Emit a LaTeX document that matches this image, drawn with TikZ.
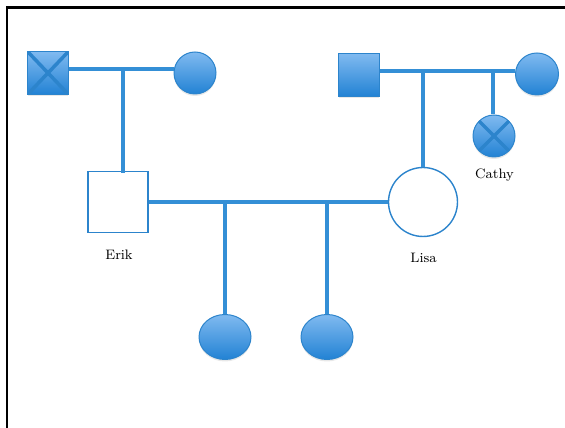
\documentclass[tikz,border=0pt]{standalone}
\usepackage{tikz}
\usetikzlibrary{shapes.geometric,shadows}

\definecolor{pedline}{RGB}{52,143,214}
\definecolor{pedtop}{RGB}{128,186,240}
\definecolor{pedbot}{RGB}{34,130,212}
\definecolor{pededge}{RGB}{44,132,204}

\tikzset{
  filled/.style={draw=pededge,line width=0.02cm,top color=pedtop,bottom color=pedbot,
    inner sep=0pt,drop shadow={opacity=0.18,shadow xshift=0cm,shadow yshift=-0.04cm}},
  male/.style={filled,rectangle,minimum width=0.82cm,minimum height=0.86cm},
  female/.style={filled,ellipse,minimum width=0.84cm,minimum height=0.84cm},
  girl/.style={filled,ellipse,minimum width=1.04cm,minimum height=0.9cm},
  affected/.style={path picture={
    \draw[pededge,line width=0.07cm] (path picture bounding box.north west) -- (path picture bounding box.south east);
    \draw[pededge,line width=0.07cm] (path picture bounding box.south west) -- (path picture bounding box.north east);}},
  unfilled/.style={draw=pededge,line width=0.028cm,fill=white,inner sep=0pt},
  tie/.style={pedline,line width=0.075cm},
  tag/.style={font=\fontsize{7.8}{9}\selectfont}
}

\begin{document}
\begin{tikzpicture}[x=0.02cm,y=-0.02cm]
    \useasboundingbox (0,0) rectangle (565,428);
    % frame
    \draw[line width=0.06cm] (6,8) -- (565,8);
    \draw[line width=0.06cm] (7,8) -- (7,428);

    % grandparents
    \node[male,affected] (gfa) at (48,73) {};
    \node[female] (gma) at (195,73) {};
    \node[male] (gfb) at (359,75) {};
    \node[female,minimum width=0.86cm] (gmb) at (537,74) {};

    % parents and aunt
    \node[unfilled,rectangle,minimum width=1.2cm,minimum height=1.22cm] (erik) at (118,202) {};
    \node[unfilled,circle,minimum size=1.38cm] (lisa) at (423,202) {};
    \node[female,affected] (cathy) at (494,136) {};
    \node[tag] (eriklab) at (119,255) {Erik};
    \node[tag] (lisalab) at (423.5,257.5) {Lisa};
    \node[tag] (cathylab) at (494.5,175) {Cathy};

    % children
    \node[girl] (kida) at (225,337) {};
    \node[girl] (kidb) at (327,337) {};

    % couple lines
    \draw[tie] ([yshift=0.08cm]gfa.east) -- ([yshift=0.08cm]gma.west);
    \draw[tie] ([yshift=0.08cm]gfb.east) -- ([yshift=0.06cm]gmb.west);
    \draw[tie] (erik.east) -- (lisa.west);

    % descent lines
    \coordinate (sib1) at (123,69);
    \coordinate (sib2) at (423,71);
    \coordinate (sib3) at (493,71);
    \coordinate (sib4) at (225,202);
    \coordinate (sib5) at (327,202);
    \draw[tie] (sib1) -- ([yshift=-0.04cm]sib1 |- erik.north);
    \draw[tie] (sib2) -- (lisa.north);
    \draw[tie] (sib3) -- (sib3 |- cathy.north);
    \draw[tie] (sib4) -- (kida.north);
    \draw[tie] (sib5) -- (kidb.north);
\end{tikzpicture}
\end{document}
